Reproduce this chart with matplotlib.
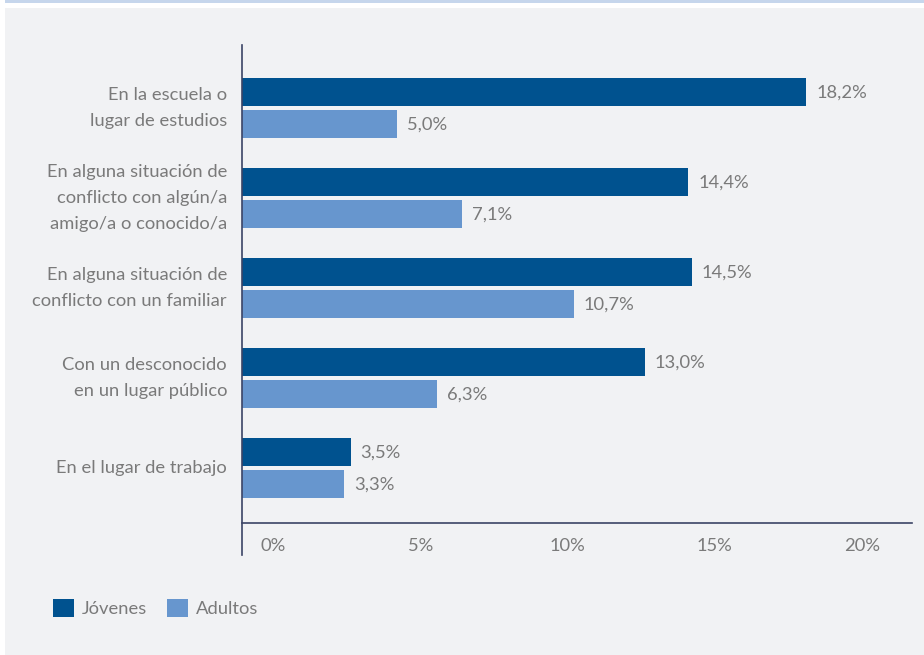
"""Barras horizontales: dónde ocurrieron las situaciones, jóvenes vs adultos."""

import matplotlib

matplotlib.use("Agg")
import matplotlib.pyplot as plt
import numpy as np
from matplotlib.lines import Line2D
from matplotlib.patches import Rectangle

CATEGORIES = [
    "En la escuela o\nlugar de estudios",
    "En alguna situación de\nconflicto con algún/a\namigo/a o conocido/a",
    "En alguna situación de\nconflicto con un familiar",
    "Con un desconocido\nen un lugar público",
    "En el lugar de trabajo",
]
JOVENES = [18.2, 14.4, 14.5, 13.0, 3.5]
ADULTOS = [5.0, 7.1, 10.7, 6.3, 3.3]
SERIES_LABELS = ["Jóvenes", "Adultos"]
TICK_VALUES = [0, 5, 10, 15, 20]

DARK_BLUE = "#00528f"
LIGHT_BLUE = "#6796ce"
PANEL_BG = "#f1f2f4"
TEXT_GREY = "#7a7a7a"
AXIS_COLOR = "#3b4466"
FS = 13.2

plt.rcParams["font.family"] = ["Lato", "DejaVu Sans"]

W, H = 924, 655
fig = plt.figure(figsize=(W / 100, H / 100), dpi=100, facecolor="white")

# panel gris y franja superior
fig.patches.append(Rectangle((5 / W, 0), 1, 1 - 8 / H, transform=fig.transFigure,
                             facecolor=PANEL_BG, edgecolor="none", zorder=-2))
fig.patches.append(Rectangle((5 / W, 1 - 3 / H), 1, 3 / H, transform=fig.transFigure,
                             facecolor="#c6d6ec", edgecolor="none", zorder=-2))

left, right, top, bottom = 242, 912, 45, 523
ax = fig.add_axes([left / W, 1 - bottom / H, (right - left) / W, (bottom - top) / H])
ax.set_facecolor("none")

px_per_unit = 31.0
ax.set_xlim(0, (right - left) / px_per_unit)
group_px = 90.0
ax.set_ylim((bottom - 108) / group_px, (top - 108) / group_px)

y = np.arange(len(CATEGORIES))
offset = 16 / group_px
height = 28.5 / group_px
bars_j = ax.barh(y - offset, JOVENES, height=height, color=DARK_BLUE, label=SERIES_LABELS[0])
bars_a = ax.barh(y + offset, ADULTOS, height=height, color=LIGHT_BLUE, label=SERIES_LABELS[1])

for bars, values in ((bars_j, JOVENES), (bars_a, ADULTOS)):
    for bar, v in zip(bars, values):
        ax.annotate(f"{v:.1f}%".replace(".", ","),
                    (bar.get_width(), bar.get_y() + bar.get_height() / 2),
                    xytext=(10, -1), textcoords="offset pixels",
                    va="center", ha="left", fontsize=FS, color=TEXT_GREY)

for yi, label in zip(y, CATEGORIES):
    ax.text(-15 / px_per_unit, yi, label, ha="right", va="center", fontsize=FS,
            color=TEXT_GREY, linespacing=1.75)

# etiquetas del eje x repartidas entre 1 % y 20 %
tick_pos = [1 + t * 0.95 for t in TICK_VALUES]
ax.set_xticks(tick_pos)
ax.set_xticklabels([f"{t}%" for t in TICK_VALUES], fontsize=FS, color=TEXT_GREY)
ax.tick_params(axis="x", length=0, pad=11)
ax.set_yticks([])

for side in ("top", "right", "left"):
    ax.spines[side].set_visible(False)
ax.spines["bottom"].set_color(AXIS_COLOR)
ax.spines["bottom"].set_linewidth(1.2)
ax.add_line(Line2D([0, 0], [-(555 - bottom) / (bottom - top), 1], transform=ax.transAxes,
                   color=AXIS_COLOR, linewidth=1.2, clip_on=False))

fig.legend(handles=[bars_j, bars_a], labels=SERIES_LABELS, loc="center left",
           bbox_to_anchor=(46 / W, 1 - 608 / H), ncol=2, frameon=False,
           fontsize=FS, labelcolor=TEXT_GREY, handlelength=1.15, handleheight=1.15,
           handletextpad=0.4, columnspacing=1.1, borderaxespad=0)

fig.savefig("out.png", dpi=100, facecolor="white")
